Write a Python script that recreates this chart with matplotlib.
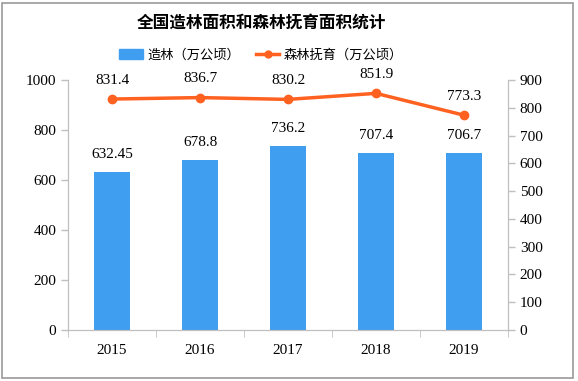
import matplotlib
matplotlib.use("Agg")
import matplotlib.pyplot as plt
from matplotlib.patches import Rectangle
from matplotlib.lines import Line2D
import numpy as np

plt.rcParams['font.family'] = ['Noto Sans CJK SC', 'DejaVu Sans']

# data
years = ['2015', '2016', '2017', '2018', '2019']
afforest = [632.45, 678.8, 736.2, 707.4, 706.7]      # 造林（万公顷）
tending = [831.4, 836.7, 830.2, 851.9, 773.3]        # 森林抚育（万公顷）

bar_color = '#3f9ef0'
line_color = '#ff6121'
axis_grey = '#bfbfbf'
num_font = 'Liberation Serif'

fig = plt.figure(figsize=(5.78, 3.81), dpi=100)
ax = fig.add_axes([68 / 578, 1 - 330 / 381, 440 / 578, 250 / 381])
ax2 = ax.twinx()

x = np.arange(len(years))
ax.bar(x, afforest, width=0.4, color=bar_color, zorder=2)
ax.set_xlim(-0.5, len(years) - 0.5)
ax.set_ylim(0, 1000)
ax.set_yticks(range(0, 1001, 200))
ax.set_xticks(x)
ax.set_xticklabels(years, family=num_font, fontsize=11)

ax2.plot(x, tending, color=line_color, lw=2.5, marker='o', ms=6, zorder=3)
ax2.set_ylim(0, 900)
ax2.set_yticks(range(0, 901, 100))

for a in (ax, ax2):
    for s in a.spines.values():
        s.set_color(axis_grey)
    a.spines['top'].set_visible(False)
    a.tick_params(colors=axis_grey, labelcolor='black', length=5, width=1)
    for lab in a.get_yticklabels():
        lab.set_family(num_font)
        lab.set_fontsize(11)
ax.tick_params(axis='x', length=0, pad=10)
ax.set_xticks(np.arange(-0.5, len(years)), minor=True)
ax.tick_params(axis='x', which='minor', length=5, color=axis_grey)

for xi, v in zip(x, afforest):
    ax.annotate(f'{v:g}', (xi, v), xytext=(0, 8), textcoords='offset points',
                ha='center', va='bottom', family=num_font, fontsize=11)
for xi, v in zip(x, tending):
    ax2.annotate(f'{v:g}', (xi, v), xytext=(0, 9), textcoords='offset points',
                 ha='center', va='bottom', family=num_font, fontsize=11)

fig.text(261 / 578, 1 - 23 / 381, '全国造林面积和森林抚育面积统计', ha='center', va='center',
         fontsize=12, fontweight='bold')

handles = [Rectangle((0, 0), 1, 1, color=bar_color),
           Line2D([], [], color=line_color, lw=2.5, marker='o', ms=5)]
fig.legend(handles, ['造林（万公顷）', '森林抚育（万公顷）'], loc='center',
           bbox_to_anchor=(261 / 578, 1 - 55 / 381), ncol=2, frameon=False,
           fontsize=9.5, handlelength=1.8, columnspacing=1.2, handletextpad=0.3)

fig.patches.append(Rectangle((2 / 578, 3 / 381), 571 / 578, 375 / 381,
                             transform=fig.transFigure, fill=False,
                             edgecolor='#999999', lw=1.2))

fig.savefig('out.png', dpi=100)
